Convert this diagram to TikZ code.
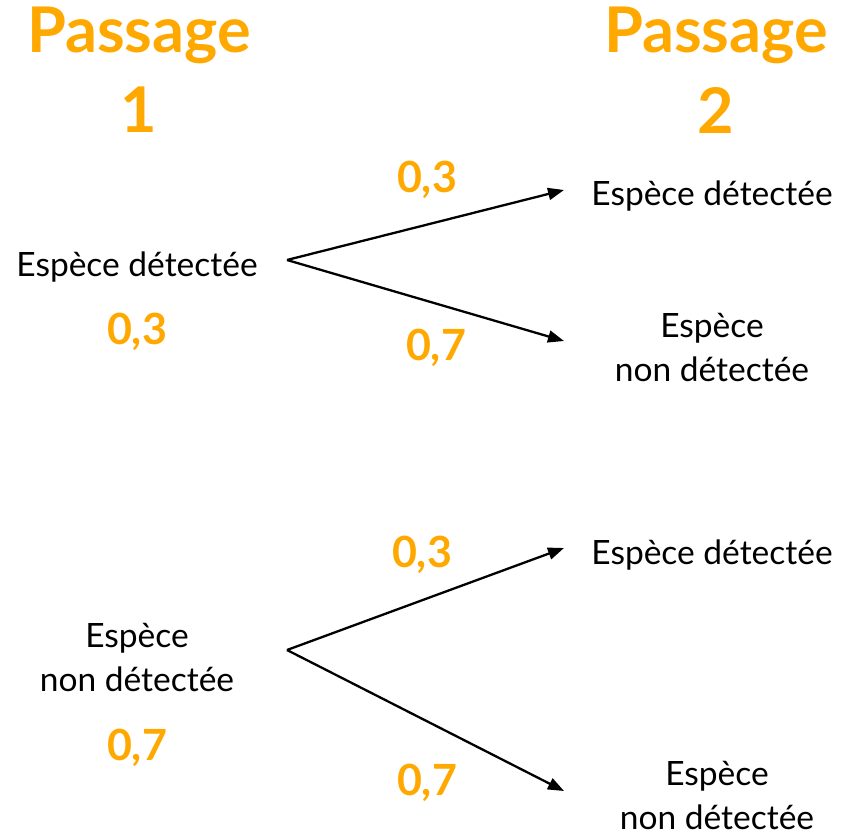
\documentclass[tikz,border=0pt]{standalone}
\usepackage{fontspec}
\setmainfont{Lato}
\usetikzlibrary{arrows.meta}
\definecolor{prob}{RGB}{255,168,0}
\begin{document}
\begin{tikzpicture}[x=1pt,y=-1pt,
  head/.style={text=prob,font=\fontsize{63}{64}\selectfont\bfseries,align=center},
  probl/.style={text=prob,font=\fontsize{43}{44}\selectfont\bfseries},
  state/.style={font=\fontsize{33.5}{44}\selectfont,align=center,inner sep=0pt},
  branch/.style={line width=2.3pt,-{Triangle[length=16pt,width=12pt]}}]
\useasboundingbox (0,0) rectangle (841,835);
% column headings
\node[head] (h1a) at (139,35) {Passage};
\node[head] (h1b) at (139,110) {1};
\node[head] (h2a) at (716,35) {Passage};
\node[head] (h2b) at (716,110) {2};
% first visit outcomes
\node[state] (d1) at (137,267) {Espèce détectée};
\node[probl] (p1) at (137,332) {0,3};
\node[state] (n1) at (137,657) {Espèce\\non détectée};
\node[probl] (p2) at (137,748) {0,7};
% second visit outcomes
\node[state] (dd) at (712,196) {Espèce détectée};
\node[state] (dn) at (712,347) {Espèce\\non détectée};
\node[state] (nd) at (712,555) {Espèce détectée};
\node[state] (nn) at (717,795) {Espèce\\non détectée};
% branch start and end points
\coordinate (s1) at (287,260);
\coordinate (s2) at (287,650);
\coordinate (e1) at (564,190);
\coordinate (e2) at (564,341);
\coordinate (e3) at (564,548);
\coordinate (e4) at (564,791);
\draw[branch] (s1) -- (e1);
\draw[branch] (s1) -- (e2);
\draw[branch] (s2) -- (e3);
\draw[branch] (s2) -- (e4);
% branch probabilities
\node[probl] (q1) at (427,180) {0,3};
\node[probl] (q2) at (436,348) {0,7};
\node[probl] (q3) at (422,555) {0,3};
\node[probl] (q4) at (427,783) {0,7};
\end{tikzpicture}
\end{document}
